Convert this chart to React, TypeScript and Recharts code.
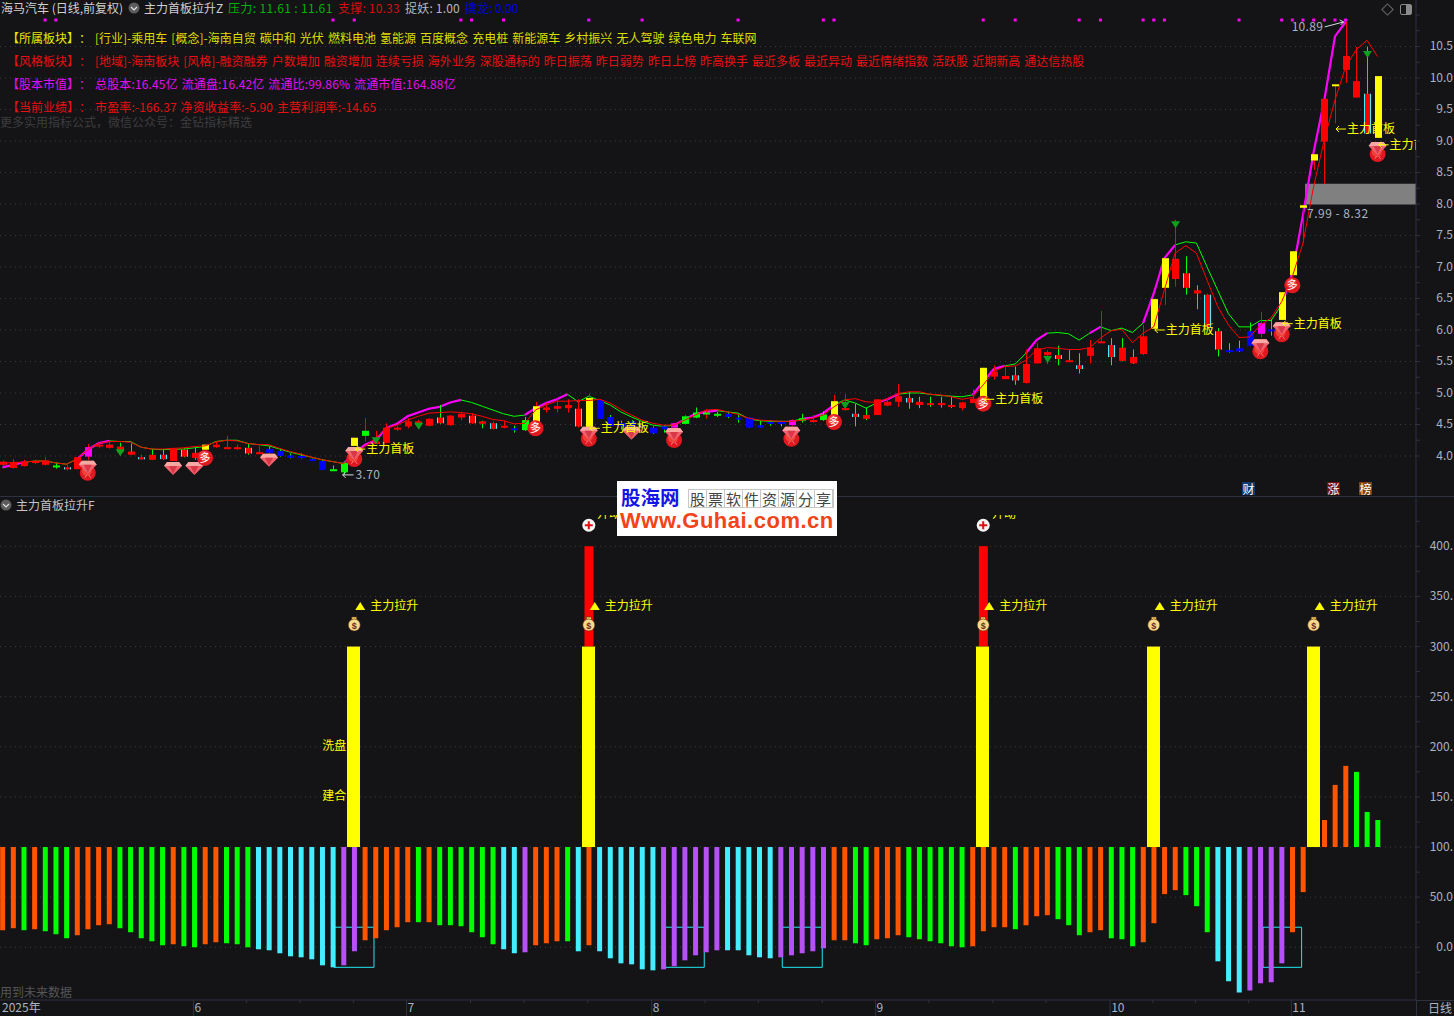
import React from "react";
import { ComposedChart, Bar, Line, Cell, XAxis, YAxis, CartesianGrid, ReferenceArea, ReferenceDot } from "recharts";

const FONT = '"Noto Sans CJK SC", "Noto Sans", sans-serif';
const BG = "#141316";
const FRAME = "#2e3140";
const TICK_TEXT = "#a9b4c4";

// one entry per trading day
const bodyTop = [
  3.91,3.90,3.91,3.92,3.93,3.85,3.82,3.98,4.14,4.18,
  4.18,4.15,4.07,3.98,4.02,4.02,4.11,4.10,4.05,4.18,
  4.18,4.14,4.14,4.13,4.06,4.11,4.08,4.01,4.00,3.95,
  3.92,3.79,3.89,4.29,4.40,4.23,4.45,4.45,4.55,4.55,
  4.59,4.61,4.64,4.67,4.64,4.55,4.52,4.48,4.44,4.57,
  4.79,4.77,4.79,4.81,4.75,4.92,4.89,4.62,4.52,4.55,
  4.49,4.45,4.47,4.52,4.63,4.69,4.69,4.67,4.67,4.61,
  4.61,4.49,4.54,4.54,4.57,4.60,4.57,4.66,4.87,4.76,
  4.67,4.65,4.90,4.86,4.95,4.92,4.86,4.84,4.84,4.81,
  4.85,4.91,5.40,5.34,5.27,5.28,5.46,5.71,5.65,5.60,
  5.52,5.44,5.72,5.82,5.76,5.72,5.57,5.90,6.49,7.14,
  7.13,6.90,6.63,6.56,5.98,5.68,5.71,5.98,6.11,6.01,
  6.60,7.25,7.98,8.79,9.67,9.90,10.35,9.95,9.75,10.03,
];
const bodyBottom = [
  3.86,3.81,3.84,3.89,3.86,3.84,3.80,3.79,3.99,4.15,
  4.13,4.06,4.02,3.95,3.94,3.95,3.92,3.99,3.97,4.10,
  4.14,4.13,4.12,4.04,4.05,4.05,4.00,3.97,3.97,3.92,
  3.78,3.78,3.74,4.16,4.32,4.19,4.21,4.42,4.47,4.49,
  4.48,4.52,4.49,4.61,4.52,4.51,4.43,4.45,4.43,4.41,
  4.54,4.73,4.75,4.76,4.47,4.45,4.59,4.48,4.47,4.44,
  4.45,4.36,4.42,4.45,4.51,4.61,4.66,4.64,4.62,4.59,
  4.45,4.45,4.52,4.52,4.49,4.56,4.56,4.57,4.65,4.73,
  4.62,4.59,4.65,4.80,4.86,4.85,4.81,4.82,4.81,4.78,
  4.76,4.84,4.92,5.26,5.22,5.20,5.16,5.47,5.60,5.54,
  5.51,5.38,5.59,5.81,5.57,5.51,5.47,5.62,6.02,6.67,
  6.81,6.67,6.58,6.05,5.69,5.66,5.66,5.75,5.94,5.99,
  6.16,6.87,7.94,8.69,8.99,9.89,10.13,9.69,9.12,9.05,
];
const wickHigh = [
  3.93,3.95,3.94,3.94,3.98,3.89,3.86,3.98,4.19,4.20,
  4.25,4.21,4.20,4.02,4.11,4.11,4.13,4.12,4.13,4.18,
  4.23,4.32,4.18,4.19,4.15,4.15,4.11,4.04,4.04,3.96,
  3.94,3.85,3.91,4.29,4.60,4.40,4.52,4.48,4.60,4.57,
  4.60,4.81,4.65,4.70,4.68,4.56,4.55,4.56,4.48,4.62,
  4.86,4.84,4.91,4.90,4.90,4.99,4.90,4.65,4.56,4.57,
  4.52,4.47,4.49,4.53,4.65,4.77,4.74,4.70,4.70,4.65,
  4.61,4.56,4.57,4.56,4.58,4.67,4.65,4.71,4.97,4.98,
  4.83,4.76,4.90,4.91,5.14,5.02,4.94,4.94,4.94,4.94,
  4.86,5.06,5.40,5.44,5.44,5.42,5.69,5.79,5.68,5.75,
  5.68,5.63,5.84,6.30,5.87,5.87,5.69,6.08,6.49,7.14,
  7.75,7.17,6.71,6.58,6.03,5.79,5.83,6.12,6.29,6.17,
  6.60,7.25,7.98,8.79,9.67,9.90,10.89,10.49,10.50,10.03,
];
const wickLow = [
  3.83,3.80,3.83,3.87,3.85,3.80,3.77,3.79,3.94,4.13,
  4.12,4.02,4.02,3.94,3.94,3.94,3.92,3.98,3.94,4.10,
  4.13,4.12,4.10,4.02,4.04,4.04,3.99,3.96,3.96,3.92,
  3.78,3.76,3.70,4.16,4.23,4.19,4.20,4.40,4.44,4.44,
  4.47,4.51,4.48,4.57,4.51,4.44,4.42,4.44,4.37,4.40,
  4.54,4.69,4.69,4.69,4.45,4.45,4.59,4.47,4.42,4.42,
  4.44,4.35,4.37,4.44,4.51,4.60,4.59,4.62,4.60,4.53,
  4.45,4.45,4.48,4.47,4.48,4.53,4.53,4.56,4.65,4.72,
  4.47,4.57,4.65,4.79,4.78,4.75,4.76,4.78,4.77,4.76,
  4.72,4.84,4.92,5.21,5.22,5.13,5.15,5.47,5.46,5.44,
  5.50,5.31,5.47,5.80,5.44,5.50,5.46,5.60,6.02,6.40,
  6.69,6.56,6.33,6.00,5.58,5.64,5.65,5.75,5.88,5.91,
  6.16,6.87,7.38,8.54,8.32,9.28,9.92,9.69,9.12,9.05,
];
// r red, c red with cyan edges, b blue, g lime, m magenta, y yellow
const bodyKinds =
  "rrrrrgcrmr" + "rrrcrcrcry" + "rrrcrbbbbb" + "bggygrrrrr" + "rcrrcrcrbg" +
  "yrrrcybbbb" + "bbbmggggbb" + "bbbbmgrgyr" + "crrrrcrrrr" + "rryrrcrrrc" +
  "rcrrcrrryy" + "rcrccbbbmb" + "yyyyryrrcy";
const greenWickDays = [5,11,12,14,15,17,18,23,25,26,27,28,29,30,31,32,41,45,48,49,57,58,59,60,61,62,65,67,68,69,70,71,72,73,75,77,80,81,85,86,87,88,89,95,99,100,101,104,105,106,111,112,114,115,116,117,119,128];

const upperLine = [
  3.82,3.86,3.90,3.92,3.92,3.89,3.87,3.95,4.10,4.20,
  4.24,4.23,4.23,4.14,4.11,4.10,4.11,4.11,4.13,4.15,
  4.23,4.25,4.25,4.20,4.18,4.16,4.11,4.06,4.02,3.98,
  3.94,3.91,3.88,4.04,4.18,4.25,4.44,4.51,4.63,4.69,
  4.75,4.78,4.85,4.89,4.85,4.79,4.73,4.67,4.63,4.65,
  4.76,4.84,4.90,4.98,4.86,4.95,4.88,4.81,4.70,4.62,
  4.55,4.49,4.47,4.49,4.58,4.67,4.70,4.72,4.70,4.68,
  4.59,4.56,4.55,4.55,4.55,4.59,4.61,4.68,4.81,4.89,
  4.84,4.76,4.84,4.90,4.98,5.00,5.00,4.98,4.96,4.95,
  4.94,4.97,5.18,5.38,5.43,5.46,5.63,5.84,5.95,5.96,
  5.94,5.84,5.95,6.05,5.99,6.03,5.96,6.11,6.58,7.14,
  7.35,7.40,7.38,7.00,6.63,6.26,6.05,6.05,6.15,6.15,
  6.40,6.90,7.83,8.83,9.65,10.66,10.89,null,null,null,
];
const lowerLine = [
  3.88,3.90,3.90,3.92,3.92,3.89,3.87,3.95,4.10,4.20,
  4.23,4.23,4.22,4.14,4.11,4.11,4.12,4.13,4.15,4.16,
  4.22,4.25,4.24,4.20,4.18,4.18,4.12,4.07,4.03,3.98,
  3.94,3.91,3.88,4.02,4.15,4.28,4.44,4.49,4.57,4.63,
  4.68,4.69,4.70,4.69,4.67,4.63,4.58,4.56,4.51,4.52,
  4.73,4.81,4.87,4.87,4.88,4.88,4.90,4.84,4.74,4.65,
  4.57,4.52,4.49,4.49,4.57,4.65,4.73,4.74,4.70,4.66,
  4.60,4.57,4.56,4.55,4.55,4.57,4.60,4.65,4.78,4.89,
  4.91,4.86,4.85,4.91,4.99,5.02,5.02,4.98,4.97,4.94,
  4.90,4.93,5.13,5.34,5.42,5.43,5.52,5.68,5.72,5.71,
  5.69,5.69,5.72,5.87,5.99,6.01,5.80,5.95,6.05,6.64,
  7.22,7.34,7.22,6.79,6.37,6.08,5.88,5.89,6.08,6.19,
  6.45,6.85,7.38,8.28,9.02,9.65,10.18,10.45,10.60,10.34,
];
// stretches of the upper line drawn in magenta
const hotRuns = [[0,2],[7,10],[32,43],[49,53],[63,67],[75,78],[82,84],[91,94],[96,98],[102,103],[107,110],[120,126]];

const priceTicks = [4,4.25,4.5,4.75,5,5.25,5.5,5.75,6,6.25,6.5,6.75,7,7.25,7.5,7.75,8,8.25,8.5,8.75,9,9.25,9.5,9.75,10,10.25,10.5,10.75,11];
const priceGrid = [4,4.5,5,5.5,6,6.5,7,7.5,8,8.5,9,9.5,10,10.5];
const PRICE_DOMAIN: [number, number] = [3.365, 11.238];

const signalDays = [4,5,31,33,43,44,47,55,60,69,77,78,92,95,101,103,107,108,109,116,120,121,122,123,124,125,126];
const gemCircleMarks = [[8,3.78],[33,4.0],[55,4.32],[63,4.30],[74,4.32],[118,5.71],[120,5.98],[129,8.84]];
const gemMarks = [[16,3.81],[18,3.81],[25,3.94],[59,4.37]];
const duoMarks = [[19,3.97],[50,4.44],[78,4.54],[92,4.83],[121,6.71]];
const downArrows = [[11,4.06],[35,4.25],[39,4.48],[79,4.81],[98,5.54],[110,7.68],[128,10.38]];
const firstBoardLabels = [[33,4.11],[55,4.44],[92,4.90],[108,6.0],[120,6.10],[125,9.19],[129,8.94]];

// lower panel: each bar runs from 100 to the value here
const oscEnds = [
  17,19,17,18,16,13,9,12,18,22,
  23,19,15,9,6,2,3,1,0,3,
  5,4,3,0,-2,-3,-6,-9,-10,-12,
  -18,-20,-18,-4,7,9,17,20,25,25,
  25,22,22,21,15,10,3,-2,-6,-5,
  2,4,6,6,-4,2,-4,-11,-16,-17,
  -22,-23,-22,-19,-13,-8,-5,-3,-3,-3,
  -8,-10,-11,-10,-8,-6,-4,-1,7,7,
  4,2,8,9,12,10,8,6,4,1,
  0,1,16,20,20,18,22,31,32,28,
  22,12,15,17,9,8,1,5,24,53,
  57,52,41,15,-14,-34,-45,-43,-36,-35,
  -16,15,55,null,127,162,181,175,135,127,
];
const oscCodes =
  "oogogggooo" + "ogggggoggo" + "ogggcccccc" + "ccppooooog" + "oggggggccp" +
  "ooogcocccc" + "ccppppppcc" + "cccpppppoo" + "ggoooggggg" + "goooogooog" +
  "ggoogggooo" + "ogggcccppp" + "pooooooggg";
const liftDays = [33,55,92,108,123];
const topDays = [55,92];
const startDays = [55,92];
const cyanBoxes = [[31.1,34.85],[62.15,65.83],[73.15,76.9],[118.25,121.87]];
const oscTicks = [-25,0,25,50,75,100,125,150,175,200,225,250,275,300,325,350,375,400,425];
const oscGrid = [0,50,100,150,200,250,300,350,400];
const oscLabels: Record<number, string> = { 400: "400.", 350: "350.", 300: "300.", 250: "250.", 200: "200.", 150: "150.", 100: "100.", 50: "50.0", 0: "0.0" };
const monthTicks: Record<number, string> = { 0: "2025年", 18: "6", 38: "7", 61: "8", 82: "9", 104: "10", 121: "11" };
const weekTicks = [23,28,33,44,49,55,66,71,77,87,93,98,108,112,117];
const stampCells = ["股","票","软","件","资","源","分","享"];

const days = bodyTop.map((_, i) => i);
const X_DOMAIN: [number, number] = [-0.2345, 132.6];

const inRun = (i: number) => hotRuns.some(([a, b]) => i >= a && i <= b);
const priceRows = days.map((i) => ({
  x: i,
  range: [wickLow[i], wickHigh[i]],
  top: bodyTop[i],
  bottom: bodyBottom[i],
  kind: bodyKinds[i],
  greenWick: greenWickDays.includes(i),
  upper: upperLine[i],
  lower: lowerLine[i],
  hot: inRun(i) ? upperLine[i] : null,
}));

const oscRows = days.map((i) => {
  const end = oscEnds[i];
  return {
    x: i,
    osc: end === null ? null : [Math.min(end, 100), Math.max(end, 100)],
    code: oscCodes[i],
    lift: liftDays.includes(i) ? [100, 300] : null,
    cap: topDays.includes(i) ? [300, 400] : null,
  };
});

const OSC_COLORS: Record<string, string> = { o: "#ff5500", g: "#00ff00", c: "#44eeff", p: "#b651f8" };
const BODY_COLORS: Record<string, string> = { r: "#ff0000", c: "#ff0000", b: "#0000ff", g: "#00ff00", m: "#ff00ff", y: "#ffff00" };

function Candle(props: any) {
  const { x, y, width, height, payload } = props;
  const high = payload.range[1];
  const low = payload.range[0];
  const h = height || 1;
  const at = (v: number) => y + ((high - v) / (high - low)) * h;
  const mid = Math.round(x + width / 2);
  const top = at(payload.top);
  const bodyH = Math.max(at(payload.bottom) - top, 2);
  const wick = payload.kind === "y" ? "#ff0000" : payload.greenWick ? "#00ff00" : "#ff0000";
  return (
    <g>
      <line x1={mid + 0.5} x2={mid + 0.5} y1={y} y2={y + h} stroke={wick} strokeWidth={1} />
      <rect x={mid - 3} y={top} width={7} height={bodyH} fill={BODY_COLORS[payload.kind]} />
      {payload.kind === "c" && (
        <>
          <rect x={mid - 3} y={top} width={1} height={bodyH} fill="#44eeff" />
          <rect x={mid + 3} y={top} width={1} height={bodyH} fill="#44eeff" />
        </>
      )}
    </g>
  );
}

// recharts caps barSize at the day spacing, the yellow columns are wider than that
const LiftBar = (props: any) => {
  const { x, y, width, height } = props;
  if (!height) return <g />;
  return <rect x={Math.round(x + width / 2 - 6.5)} y={y} width={13} height={height} fill="#ffff00" />;
};

const PriceTick = (props: any) => {
  const { y, payload } = props;
  const isMajor = priceGrid.includes(payload.value);
  if (!isMajor) return <g />;
  return (
    <text x={1453} y={y + 4} textAnchor="end" fontSize={12} fontFamily={FONT} fill={TICK_TEXT}>
      {payload.value.toFixed(1)}
    </text>
  );
};

const OscTick = (props: any) => {
  const { y, payload } = props;
  const label = oscLabels[payload.value];
  if (!label) return <g />;
  return (
    <text x={1453} y={y + 4} textAnchor="end" fontSize={12} fontFamily={FONT} fill={TICK_TEXT}>
      {label}
    </text>
  );
};

const DateTick = (props: any) => {
  const { x, y, payload } = props;
  const label = monthTicks[payload.value];
  if (label !== undefined) {
    return (
      <g>
        {payload.value !== 0 && <line x1={x - 1} x2={x - 1} y1={y} y2={y + 16} stroke={FRAME} />}
        <text x={payload.value === 0 ? 2 : x} y={y + 12} fontSize={12} fontFamily={FONT} fill={TICK_TEXT}>
          {label}
        </text>
      </g>
    );
  }
  return <line x1={x - 1} x2={x - 1} y1={y} y2={y + 3} stroke={FRAME} />;
};

const Gem = ({ cx, cy }: { cx: number; cy: number }) => (
  <g>
    <polygon points={`${cx - 6},${cy - 6} ${cx + 6},${cy - 6} ${cx + 9},${cy - 2} ${cx},${cy + 7} ${cx - 9},${cy - 2}`} fill="#f2606c" />
    <polygon points={`${cx - 6},${cy - 6} ${cx + 6},${cy - 6} ${cx + 9},${cy - 2} ${cx - 9},${cy - 2}`} fill="#f8a8a4" />
    <polygon points={`${cx - 4},${cy - 2} ${cx + 4},${cy - 2} ${cx},${cy + 6}`} fill="#d83848" />
  </g>
);

const RedBall = ({ cx, cy, r = 7.5 }: { cx: number; cy: number; r?: number }) => (
  <g>
    <circle cx={cx} cy={cy} r={r} fill="#e01820" />
    <circle cx={cx - 1} cy={cy - 2} r={r - 3} fill="#f04038" />
  </g>
);

const GemCircle = (props: any) => (
  <g>
    <RedBall cx={props.cx} cy={props.cy + 3} r={8} />
    <Gem cx={props.cx} cy={props.cy - 3} />
    <path d={`M${props.cx - 3},${props.cy + 8} L${props.cx - 1},${props.cy + 5} M${props.cx + 3},${props.cy + 8} L${props.cx + 1},${props.cy + 5}`} fill="none" stroke="#ffffff" strokeOpacity={0.5} strokeWidth={0.8} />
  </g>
);

const GemOnly = (props: any) => <Gem cx={props.cx} cy={props.cy} />;

const Duo = (props: any) => (
  <g>
    <RedBall cx={props.cx} cy={props.cy} r={8} />
    <text x={props.cx} y={props.cy + 4} textAnchor="middle" fontSize={11} fontFamily={FONT} fill="#ffffff">
      多
    </text>
  </g>
);

const DownArrow = (props: any) => {
  const { cx, cy } = props;
  return <polygon points={`${cx - 4},${cy - 3} ${cx + 5},${cy - 3} ${cx + 0.5},${cy + 4}`} fill="#0fa01e" />;
};

const SignalDot = (props: any) => <rect x={props.cx - 1.5} y={props.cy - 1.5} width={3} height={3} fill="#ff00ff" />;

const FirstBoard = (props: any) => {
  const { cx, cy } = props;
  return (
    <svg x={cx} y={cy - 10} width={Math.min(64, 1416 - cx)} height={20}>
      <line x1={1} x2={11} y1={10} y2={10} stroke="#ffff00" />
      <polyline points="4,7 1,10 4,13" fill="none" stroke="#ffff00" />
      <text x={12} y={14} fontSize={12} fontFamily={FONT} fill="#ffff00">
        主力首板
      </text>
    </svg>
  );
};

const LowLabel = (props: any) => {
  const { cx, cy } = props;
  return (
    <g>
      <line x1={cx - 1} x2={cx + 10} y1={cy} y2={cy} stroke="#d8dce4" />
      <polyline points={`${cx + 2},${cy - 3} ${cx - 1},${cy} ${cx + 2},${cy + 3}`} fill="none" stroke="#d8dce4" />
      <text x={cx + 12} y={cy + 4} fontSize={12} letterSpacing={0.3} fontFamily={FONT} fill={TICK_TEXT}>
        3.70
      </text>
    </g>
  );
};

const HighLabel = (props: any) => {
  const { cx, cy } = props;
  return (
    <g>
      <text x={cx - 54} y={cy + 9} fontSize={12} letterSpacing={0.3} fontFamily={FONT} fill={TICK_TEXT}>
        10.89
      </text>
      <line x1={cx - 21} x2={cx - 2} y1={cy + 5} y2={cy} stroke="#d8dce4" />
      <polyline points={`${cx - 6},${cy - 2} ${cx - 2},${cy} ${cx - 5},${cy + 3}`} fill="none" stroke="#d8dce4" />
    </g>
  );
};

const ZoneLabel = (props: any) => (
  <text x={props.cx + 4} y={props.cy + 4} fontSize={12} letterSpacing={0.5} fontFamily={FONT} fill={TICK_TEXT}>
    7.99 - 8.32
  </text>
);

const MoneyBag = (props: any) => {
  const { cx, cy } = props;
  return (
    <g>
      <rect x={cx - 2.5} y={cy - 7} width={5} height={3} fill="#f8d060" stroke="#5a3018" strokeWidth={0.6} />
      <circle cx={cx} cy={cy + 1} r={6} fill="#f6d98a" stroke="#5a3018" strokeWidth={0.6} />
      <text x={cx} y={cy + 4.5} textAnchor="middle" fontSize={9} fontWeight="bold" fontFamily="Liberation Sans" fill="#6a2a18">
        $
      </text>
    </g>
  );
};

const LiftLabel = (props: any) => {
  const { cx, cy } = props;
  return (
    <g>
      <polygon points={`${cx + 1},${cy + 4} ${cx + 11},${cy + 4} ${cx + 6},${cy - 4}`} fill="#ffff00" />
      <text x={cx + 16} y={cy + 4} fontSize={12} fontFamily={FONT} fill="#ffff00">
        主力拉升
      </text>
    </g>
  );
};

const StartMark = (props: any) => {
  const { cx, cy } = props;
  return (
    <g>
      <circle cx={cx} cy={cy} r={6.5} fill="#f4f4f4" />
      <rect x={cx - 4} y={cy - 1} width={8} height={2} fill="#e01010" />
      <rect x={cx - 1} y={cy - 4} width={2} height={8} fill="#e01010" />
    </g>
  );
};

const SideWord = (word: string) => (props: any) => (
  <text x={props.cx - 8} y={props.cy + 4} textAnchor="end" fontSize={12} fontFamily={FONT} fill="#ffff00">
    {word}
  </text>
);

function Txt({ x, y, color, size = 12, children, style }: any) {
  return (
    <div
      style={{
        position: "absolute",
        left: x,
        top: y - 7,
        height: 14,
        lineHeight: "14px",
        fontSize: size,
        fontFamily: FONT,
        color,
        whiteSpace: "pre",
        ...style,
      }}
    >
      {children}
    </div>
  );
}

const ChevronDot = ({ x, y }: { x: number; y: number }) => (
  <svg style={{ position: "absolute", left: x - 6, top: y - 6 }} width={12} height={12}>
    <circle cx={6} cy={6} r={5.5} fill="#5c5c5c" />
    <polyline points="3,5 6,8 9,5" fill="none" stroke="#e0e0e0" strokeWidth={1.2} />
  </svg>
);

const Badge = ({ x, bg, word }: { x: number; bg: string; word: string }) => (
  <div
    style={{
      position: "absolute",
      left: x,
      top: 482,
      width: 13,
      height: 13,
      background: bg,
      color: "#fff",
      fontSize: 12,
      lineHeight: "13px",
      textAlign: "center",
      fontFamily: FONT,
    }}
  >
    {word}
  </div>
);

// grid, axis, zone and the upper line sit under the candles
function PriceUnderlay() {
  return (
    <ComposedChart
      width={1454}
      height={496}
      data={priceRows}
      margin={{ top: 0, right: 0, bottom: 0, left: 0 }}
      style={{ position: "absolute", left: 0, top: 0 }}
    >
      <CartesianGrid horizontalValues={priceGrid} vertical={false} stroke="#3c3c40" strokeDasharray="1 4" />
      <XAxis dataKey="x" type="number" domain={X_DOMAIN} hide />
      <YAxis
        orientation="right"
        width={38}
        domain={PRICE_DOMAIN}
        ticks={priceTicks}
        interval={0}
        tick={PriceTick}
        tickSize={4}
        axisLine={{ stroke: FRAME }}
        tickLine={{ stroke: FRAME }}
      />
      <ReferenceArea x1={122.2} x2={132.6} y1={7.99} y2={8.32} fill="#808080" fillOpacity={1} stroke="none" />
      <Line dataKey="upper" stroke="#00ff00" strokeWidth={1} dot={false} activeDot={false} isAnimationActive={false} />
      <Line dataKey="hot" stroke="#ff00ff" strokeWidth={2.2} dot={false} activeDot={false} isAnimationActive={false} />
    </ComposedChart>
  );
}

function PriceOverlay() {
  return (
    <ComposedChart
      width={1454}
      height={496}
      data={priceRows}
      margin={{ top: 0, right: 38, bottom: 0, left: 0 }}
      style={{ position: "absolute", left: 0, top: 0 }}
    >
      <XAxis dataKey="x" type="number" domain={X_DOMAIN} hide />
      <YAxis domain={PRICE_DOMAIN} hide />
      <Bar dataKey="range" barSize={7} shape={Candle} isAnimationActive={false} />
      <Line dataKey="lower" stroke="#ff0000" strokeWidth={1} dot={false} activeDot={false} isAnimationActive={false} />
      {signalDays.map((d) => (
        <ReferenceDot key={`s${d}`} x={d} y={10.92} ifOverflow="visible" shape={SignalDot} />
      ))}
      {gemMarks.map(([d, p]) => (
        <ReferenceDot key={`g${d}`} x={d} y={p} ifOverflow="visible" shape={GemOnly} />
      ))}
      {gemCircleMarks.map(([d, p]) => (
        <ReferenceDot key={`c${d}`} x={d} y={p} ifOverflow="visible" shape={GemCircle} />
      ))}
      {duoMarks.map(([d, p]) => (
        <ReferenceDot key={`d${d}`} x={d} y={p} ifOverflow="visible" shape={Duo} />
      ))}
      {downArrows.map(([d, p]) => (
        <ReferenceDot key={`a${d}`} x={d} y={p} ifOverflow="visible" shape={DownArrow} />
      ))}
      {firstBoardLabels.map(([d, p]) => (
        <ReferenceDot key={`l${d}`} x={d} y={p} ifOverflow="visible" shape={FirstBoard} />
      ))}
      <ReferenceDot x={32} y={3.7} ifOverflow="visible" shape={LowLabel} />
      <ReferenceDot x={126} y={10.89} ifOverflow="visible" shape={HighLabel} />
      <ReferenceDot x={122} y={7.84} ifOverflow="visible" shape={ZoneLabel} />
    </ComposedChart>
  );
}

function OscPanel() {
  return (
    <ComposedChart
      width={1454}
      height={519}
      data={oscRows}
      margin={{ top: 0, right: 0, bottom: 0, left: 0 }}
      style={{ position: "absolute", left: 0, top: 497 }}
    >
      <CartesianGrid horizontalValues={oscGrid} vertical={false} stroke="#3c3c40" strokeDasharray="1 4" />
      <XAxis
        dataKey="x"
        type="number"
        domain={X_DOMAIN}
        ticks={[...Object.keys(monthTicks).map(Number), ...weekTicks].sort((a, b) => a - b)}
        interval={0}
        height={16}
        tick={DateTick}
        tickSize={0}
        tickMargin={0}
        axisLine={{ stroke: FRAME }}
      />
      <XAxis xAxisId="lift" dataKey="x" type="number" domain={X_DOMAIN} hide />
      <XAxis xAxisId="cap" dataKey="x" type="number" domain={X_DOMAIN} hide />
      <YAxis
        orientation="right"
        width={38}
        domain={[-52.6, 449.2]}
        ticks={oscTicks}
        interval={0}
        tick={OscTick}
        tickSize={4}
        axisLine={{ stroke: FRAME }}
        tickLine={{ stroke: FRAME }}
      />
      {cyanBoxes.map(([a, b]) => (
        <ReferenceArea key={a} x1={a} x2={b} y1={-20} y2={20} fill="none" stroke="#22e8f0" strokeWidth={1} />
      ))}
      <Bar dataKey="osc" barSize={5} isAnimationActive={false}>
        {oscRows.map((r) => (
          <Cell key={r.x} fill={OSC_COLORS[r.code]} />
        ))}
      </Bar>
      <Bar xAxisId="cap" dataKey="cap" barSize={9} fill="#ff0000" isAnimationActive={false} />
      <Bar xAxisId="lift" dataKey="lift" barSize={10} shape={LiftBar} isAnimationActive={false} />
      {liftDays.map((d) => (
        <ReferenceDot key={`b${d}`} x={d} y={322.5} ifOverflow="visible" shape={MoneyBag} />
      ))}
      {liftDays.map((d) => (
        <ReferenceDot key={`t${d}`} x={d} y={340.5} ifOverflow="visible" shape={LiftLabel} />
      ))}
      {startDays.map((d) => (
        <ReferenceDot key={`p${d}`} x={d} y={421} ifOverflow="visible" shape={StartMark} />
      ))}
      <ReferenceDot x={33} y={200.8} ifOverflow="visible" shape={SideWord("洗盘")} />
      <ReferenceDot x={33} y={151} ifOverflow="visible" shape={SideWord("建合")} />
    </ComposedChart>
  );
}

const SectionTag = ({ y, color, word }: { y: number; color: string; word: string }) => (
  <>
    <Txt x={7} y={y} color={color}>{`【${word}】`}</Txt>
    <Txt x={79} y={y} color={color}>：</Txt>
  </>
);

export default function App() {
  return (
    <div style={{ position: "absolute", left: 0, top: 0, width: 1454, height: 1016, background: BG, overflow: "hidden" }}>
      <PriceUnderlay />
      <PriceOverlay />
      <OscPanel />

      {/* panel frames */}
      <div style={{ position: "absolute", left: 0, top: 496, width: 1454, height: 1, background: FRAME }} />
      <div style={{ position: "absolute", left: 1416, top: 1000, width: 38, height: 1, background: FRAME }} />
      <div style={{ position: "absolute", left: 1416, top: 1000, width: 1, height: 16, background: FRAME }} />

      {/* header */}
      <Txt x={1} y={8} color="#d0d0d0">海马汽车 (日线,前复权)</Txt>
      <ChevronDot x={134} y={8} />
      <Txt x={144} y={8} color="#d0d0d0">主力首板拉升Z</Txt>
      <Txt x={228} y={8} color="#00b400" style={{ letterSpacing: 0.35 }}>压力: 11.61 : 11.61</Txt>
      <Txt x={338} y={8} color="#d41010" style={{ letterSpacing: 0.2 }}>支撑: 10.33</Txt>
      <Txt x={405} y={8} color="#b8b8b8" style={{ letterSpacing: 0.2 }}>捉妖: 1.00</Txt>
      <Txt x={465} y={8} color="#0000e0">擒龙: 0.00</Txt>

      <SectionTag y={38} color="#e8e800" word="所属板块" />
      <Txt x={95} y={38} color="#dede00" style={{ wordSpacing: 1.4 }}>[行业]-乘用车 [概念]-海南自贸 碳中和 光伏 燃料电池 氢能源 百度概念 充电桩 新能源车 乡村振兴 无人驾驶 绿色电力 车联网</Txt>
      <SectionTag y={61} color="#e81010" word="风格板块" />
      <Txt x={95} y={61} color="#e81010" style={{ wordSpacing: 1.35 }}>[地域]-海南板块 [风格]-融资融券 户数增加 融资增加 连续亏损 海外业务 深股通标的 昨日振荡 昨日弱势 昨日上榜 昨高换手 最近多板 最近异动 最近情绪指数 活跃股 近期新高 通达信热股</Txt>
      <SectionTag y={84} color="#e010f0" word="股本市值" />
      <Txt x={95} y={84} color="#e010f0" style={{ letterSpacing: 0.15, wordSpacing: 1 }}>总股本:16.45亿 流通盘:16.42亿 流通比:99.86% 流通市值:164.88亿</Txt>
      <SectionTag y={107} color="#e81010" word="当前业绩" />
      <Txt x={95} y={107} color="#e81010" style={{ letterSpacing: 0.15, wordSpacing: 1 }}>市盈率:-166.37 净资收益率:-5.90 主营利润率:-14.65</Txt>
      <Txt x={0} y={122} color="#3e3e3e">更多实用指标公式，微信公众号：金钻指标精选</Txt>

      {/* top right controls */}
      <div style={{ position: "absolute", left: 1383, top: 5, width: 7, height: 7, border: "1px solid #6a6a6a", transform: "rotate(45deg)" }} />
      <div style={{ position: "absolute", left: 1400, top: 4, width: 10, height: 9, border: "1px solid #8a8a8a", borderRadius: 2, background: "linear-gradient(90deg, transparent 50%, #8a8a8a 50%)" }} />

      <Badge x={1242} bg="#0d3c6e" word="财" />
      <Badge x={1327} bg="#7a0d0d" word="涨" />
      <Badge x={1359} bg="#7a4210" word="榜" />

      {/* lower panel captions */}
      <ChevronDot x={6} y={505} />
      <Txt x={16} y={505} color="#c4c4c4">主力首板拉升F</Txt>
      <Txt x={0} y={992} color="#565656">用到未来数据</Txt>
      <Txt x={1428} y={1008} color={TICK_TEXT}>日线</Txt>

      {/* clipped signal names above the two tallest columns */}
      {[597, 992].map((x) => (
        <div key={x} style={{ position: "absolute", left: x, top: 515, width: 24, height: 7, overflow: "hidden" }}>
          <div style={{ position: "absolute", top: -11, left: 0, fontSize: 12, lineHeight: "18px", color: "#ffff00", fontFamily: FONT, whiteSpace: "pre" }}>开动</div>
        </div>
      ))}

      {/* site stamp */}
      <div style={{ position: "absolute", left: 617, top: 481, width: 220, height: 55, background: "#ffffff" }}>
        <div style={{ position: "absolute", left: 4, top: 6, fontSize: 19.5, lineHeight: "20px", fontWeight: 700, color: "#1414e6", fontFamily: FONT, whiteSpace: "pre" }}>股海网</div>
        <div style={{ position: "absolute", left: 71, top: 8, display: "flex", border: "1px solid #c8c8c8" }}>
          {stampCells.map((c) => (
            <div key={c} style={{ width: 18, height: 17, boxSizing: "border-box", borderRight: "1px solid #c8c8c8", fontSize: 15, lineHeight: "17px", textAlign: "center", color: "#444444", fontFamily: FONT }}>{c}</div>
          ))}
        </div>
        <div style={{ position: "absolute", left: 3, top: 28, fontSize: 22, lineHeight: "24px", fontWeight: 700, letterSpacing: 0.5, color: "#f24418", fontFamily: '"Liberation Sans", sans-serif', whiteSpace: "pre" }}>Www.Guhai.com.cn</div>
      </div>
    </div>
  );
}
